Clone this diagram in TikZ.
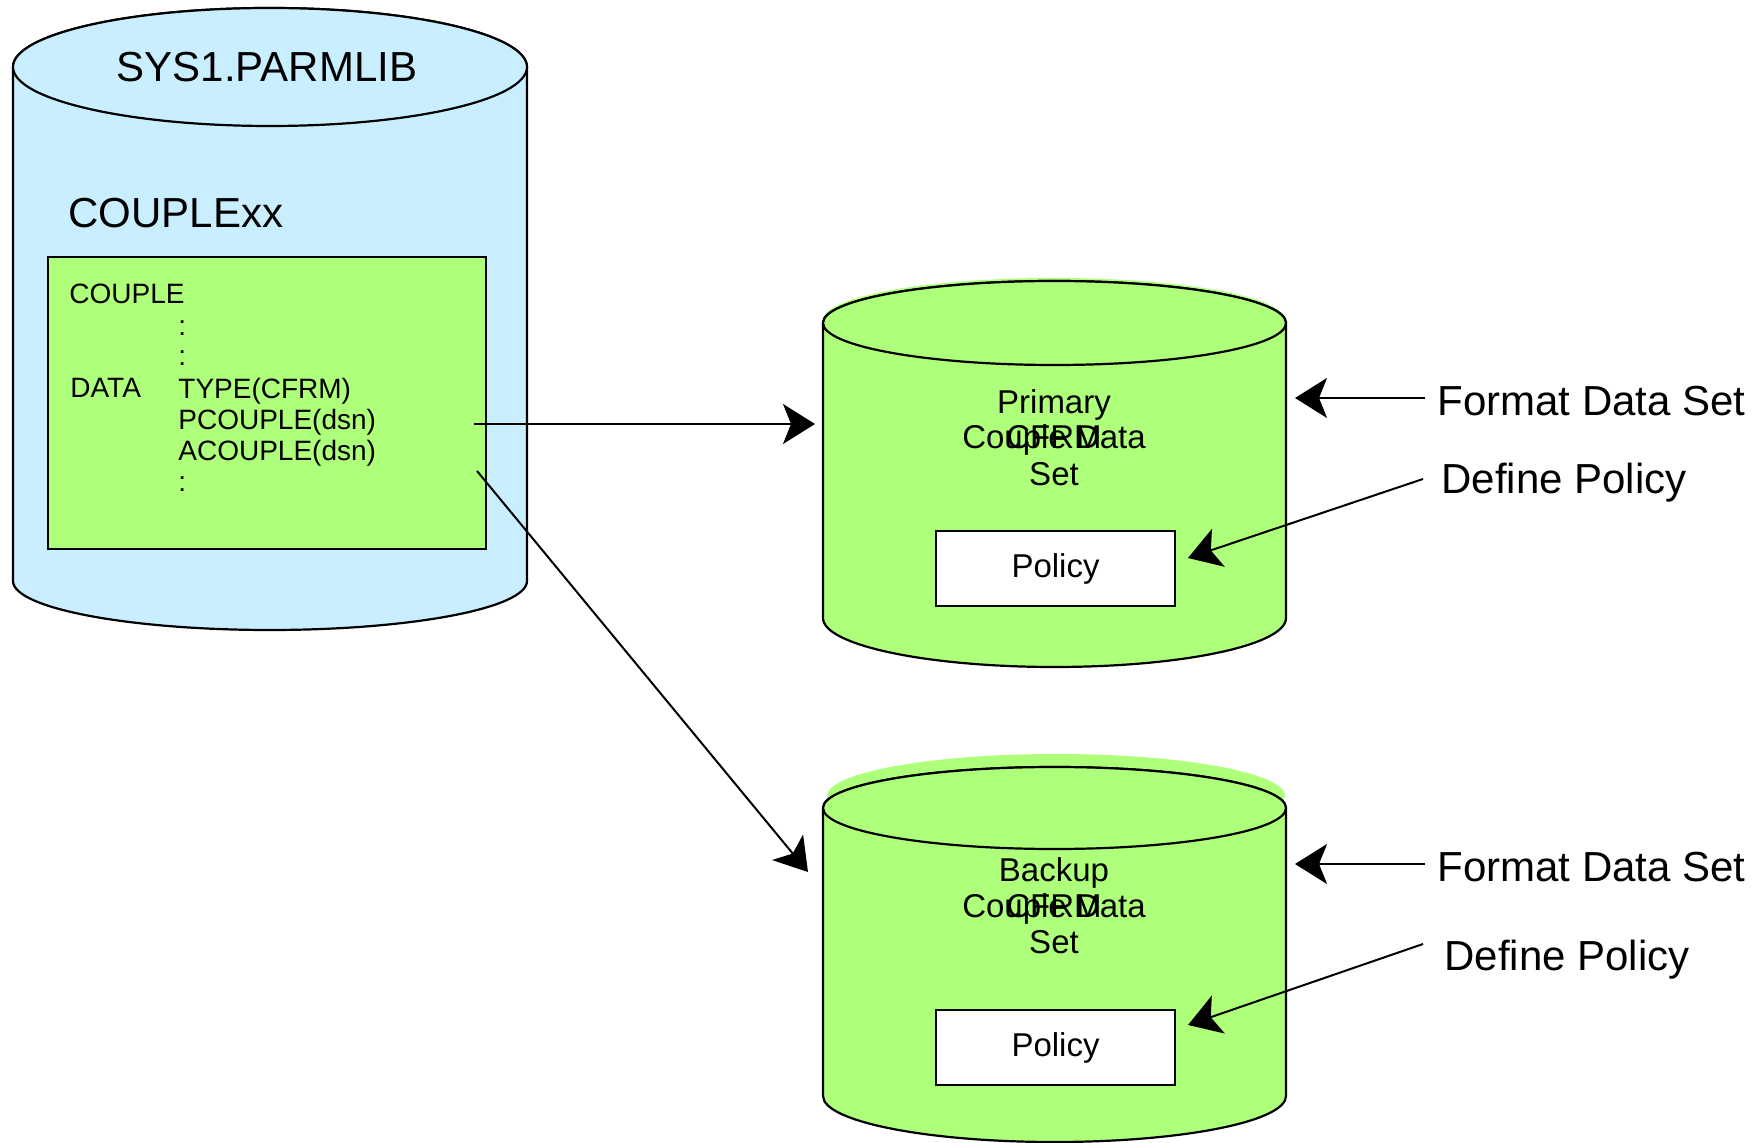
\documentclass[tikz,border=0pt]{standalone}
\usepackage{fontspec}
\setmainfont{Liberation Sans}
\usetikzlibrary{arrows.meta}
\definecolor{cylblue}{RGB}{200,238,255}
\definecolor{lgreen}{RGB}{174,255,122}
\tikzset{
  big/.style={font=\fontsize{21}{25}\selectfont, inner sep=0pt},
  small/.style={font=\fontsize{14}{17}\selectfont, inner sep=0pt},
  mid/.style={font=\fontsize{16.5}{19}\selectfont, inner sep=0pt},
  conn/.style={line width=1pt, -{Stealth[length=16pt,width=20pt,inset=4pt]}},
  cyl/.style={line width=1.1pt},
  policybox/.style={draw, fill=white, line width=1pt, minimum width=119.5pt, minimum height=37.5pt, inner sep=0pt, font=\fontsize{16.5}{19}\selectfont}
}
\begin{document}
\begin{tikzpicture}[x=0.5pt,y=-0.5pt]
\useasboundingbox (0,0) rectangle (1760,1143);

% ---------- SYS1.PARMLIB cylinder ----------
\filldraw[cyl, fill=cylblue] (13,67) -- (13,581)
  arc[start angle=180, end angle=0, x radius=257, y radius=49]
  -- (527,67) arc[start angle=0, end angle=-180, x radius=257, y radius=59] -- cycle;
\draw[cyl, fill=cylblue] (270,67) ellipse [x radius=257, y radius=59];
\node[big, anchor=base] (parmlib) at (267,82) {SYS1.PARMLIB};
\node[big, anchor=base west] (couplexx) at (68,228) {COUPLExx};

\node[draw, fill=lgreen, line width=1pt, minimum width=219pt, minimum height=146pt, inner sep=0pt] (cfg) at (267,403) {};
\node[small, anchor=base west] (t1) at (69,304) {COUPLE};
\node[small, anchor=base west] (t2) at (178,336) {:};
\node[small, anchor=base west] (t3) at (178,366) {:};
\node[small, anchor=base west] (t4) at (70,398) {DATA};
\node[small, anchor=base west] (t5) at (178,399) {TYPE(CFRM)};
\node[small, anchor=base west] (t6) at (178,430) {PCOUPLE(dsn)};
\node[small, anchor=base west] (t7) at (178,461) {ACOUPLE(dsn)};
\node[small, anchor=base west] (t8) at (178,492) {:};

% ---------- Primary cylinder ----------
\fill[lgreen] (1054,320) ellipse [x radius=231, y radius=42];
\filldraw[cyl, fill=lgreen] (823,323) -- (823,618)
  arc[start angle=180, end angle=0, x radius=231.5, y radius=49]
  -- (1286,323) arc[start angle=0, end angle=-180, x radius=231.5, y radius=42] -- cycle;
\draw[cyl, fill=lgreen] (1054.5,323) ellipse [x radius=231.5, y radius=42];
\node[mid, anchor=base] (p1) at (1054,414) {Primary};
\node[mid, anchor=base] (p2) at (1054,449) {Couple Data};
\node[mid, anchor=base] (p2b) at (1054,449) {CFRM};
\node[mid, anchor=base] (p3) at (1054,486) {Set};
\node[policybox] (pol1) at (1055.5,568.5) {Policy};

% ---------- Backup cylinder ----------
\fill[lgreen] (1056,796) ellipse [x radius=229, y radius=42];
\filldraw[cyl, fill=lgreen] (823,808) -- (823,1096)
  arc[start angle=180, end angle=0, x radius=231.5, y radius=46]
  -- (1286,808) arc[start angle=0, end angle=-180, x radius=231.5, y radius=41] -- cycle;
\draw[cyl, fill=lgreen] (1054.5,808) ellipse [x radius=231.5, y radius=41];
\node[mid, anchor=base] (b1) at (1054,881) {Backup};
\node[mid, anchor=base] (b2) at (1054,917) {Couple Data};
\node[mid, anchor=base] (b2b) at (1054,917) {CFRM};
\node[mid, anchor=base] (b3) at (1054,953) {Set};
\node[policybox] (pol2) at (1055.5,1047.5) {Policy};

% ---------- right labels ----------
\node[big, anchor=base west] (fmt1) at (1437,416) {Format Data Set};
\node[big, anchor=base west] (def1) at (1441,494) {Define Policy};
\node[big, anchor=base west] (fmt2) at (1437,881) {Format Data Set};
\node[big, anchor=base west] (def2) at (1444,970) {Define Policy};

% ---------- connectors ----------
\coordinate (pstart) at (474,424);
\coordinate (pend) at (815,424);
\coordinate (bstart) at (477,471);
\coordinate (bend) at (808,872);
\draw[conn] (pstart) -- (pend);
\draw[conn] (bstart) -- (bend);

\coordinate (f1s) at (1425,398);
\coordinate (f1e) at (1295,398);
\coordinate (f2s) at (1425,864);
\coordinate (f2e) at (1295,864);
\draw[conn] (f1s) -- (f1e);
\draw[conn] (f2s) -- (f2e);

\coordinate (d1s) at (1423,479);
\coordinate (d1e) at (1188,558);
\coordinate (d2s) at (1423,944);
\coordinate (d2e) at (1188,1025);
\draw[conn] (d1s) -- (d1e);
\draw[conn] (d2s) -- (d2e);
\end{tikzpicture}
\end{document}
